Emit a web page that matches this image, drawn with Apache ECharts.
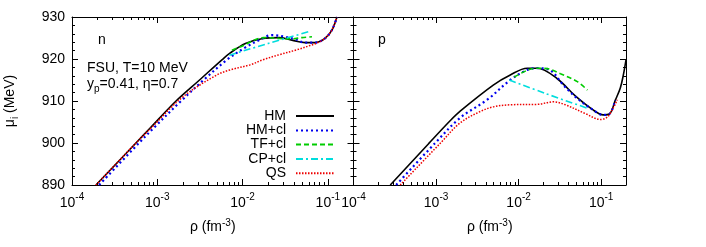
<!DOCTYPE html>
<html>
<head>
<meta charset="utf-8">
<script src="https://cdn.jsdelivr.net/npm/echarts@6/dist/echarts.min.js"></script>
<style>
html,body{margin:0;padding:0;background:#fff;}
#c{width:706px;height:247px;}
</style>
</head>
<body>
<div id="c"></div>
<script>
// ---------- data (rho in fm^-3, mu in MeV) ----------
const seriesNames = ['HM', 'HM+cl', 'TF+cl', 'CP+cl', 'QS'];
const xTickLabels = ['10^-4', '10^-3', '10^-2', '10^-1'];
const xDecades = [1e-4, 1e-3, 1e-2, 1e-1];
const yTicks = [890, 900, 910, 920, 930];

// neutron panel
const nHM_rho = [1.91e-4, 5.62e-4, 8.2e-4, 1.66e-3, 3.13e-3, 5.73e-3, 7.11e-3, 1.08e-2, 1.73e-2, 2.67e-2, 3.79e-2, 5.43e-2, 7.06e-2, 9.25e-2, 0.1117, 0.128];
const nHM_mu  = [890.0, 900.0, 903.5, 910.0, 915.0, 919.8, 921.4, 923.7, 924.9, 925.1, 924.5, 923.9, 923.9, 924.9, 926.9, 930.0];
const nHMcl_rho = [2.08e-4, 6.1e-4, 9.1e-4, 1.9e-3, 3.49e-3, 6.56e-3, 1.07e-2, 1.6e-2, 2.21e-2, 3.14e-2, 4.11e-2, 5.37e-2, 7.06e-2, 9.25e-2, 0.1117, 0.128];
const nHMcl_mu  = [890.0, 900.0, 903.6, 910.0, 915.0, 919.8, 922.7, 924.6, 925.7, 925.3, 924.7, 923.9, 923.9, 924.9, 926.9, 930.0];
const nTF_rho = [7.5e-3, 1.07e-2, 1.4e-2, 1.83e-2, 2.67e-2, 3.79e-2, 4.97e-2, 6.52e-2];
const nTF_mu  = [922.1, 923.4, 924.6, 925.1, 924.9, 924.8, 925.1, 925.3];
const nCP_rho = [7.0e-3, 2.0e-2, 5.96e-2];
const nCP_mu  = [920.9, 923.7, 926.5];
const nQS_rho = [1.91e-4, 5.62e-4, 8.67e-4, 2.0e-3, 5.01e-3, 7.11e-3, 1.22e-2, 1.73e-2, 2.67e-2, 4.35e-2, 6.17e-2, 7.45e-2, 9.25e-2, 0.1117, 0.128];
const nQS_mu  = [890.0, 900.0, 903.8, 911.0, 916.2, 917.4, 918.6, 919.8, 921.0, 922.2, 923.2, 923.8, 924.9, 926.9, 930.0];

// proton panel
const pHM_rho = [2.79e-4, 8.17e-4, 1.48e-3, 1.96e-3, 4.93e-3, 7.93e-3, 1.27e-2, 1.69e-2, 2.94e-2, 4.86e-2, 7.82e-2, 0.106, 0.1256, 0.1486, 0.1706, 0.1858, 0.2];
const pHM_mu  = [890.0, 899.9, 905.3, 907.6, 913.8, 916.2, 917.8, 917.8, 915.3, 911.2, 908.0, 906.7, 906.9, 910.2, 913.1, 916.2, 919.8];
const pHMcl_rho = [3.29e-4, 9.77e-4, 1.96e-3, 4.17e-3, 7.93e-3, 1.27e-2, 1.69e-2, 2.42e-2, 3.48e-2, 5.15e-2, 7.82e-2, 0.106, 0.1256, 0.1486];
const pHMcl_mu  = [890.0, 900.0, 906.0, 910.3, 915.0, 917.4, 917.8, 917.3, 913.8, 910.6, 908.0, 906.7, 906.9, 910.2];
const pTF_rho = [8.86e-3, 1.27e-2, 1.69e-2, 2.23e-2, 3.21e-2, 5.15e-2, 6.81e-2];
const pTF_mu  = [915.7, 917.3, 917.8, 917.7, 916.5, 914.6, 912.6];
const pCP_rho = [7.71e-3, 2.11e-2, 7.01e-2];
const pCP_mu  = [915.0, 911.8, 908.2];
const pQS_rho = [3.68e-4, 1.12e-3, 1.96e-3, 3.43e-3, 4.93e-3, 7.93e-3, 1.69e-2, 2.64e-2, 3.68e-2, 6.43e-2, 9.77e-2, 0.119, 0.1406, 0.157];
const pQS_mu  = [890.0, 899.9, 904.8, 907.5, 908.6, 909.1, 909.2, 909.8, 909.1, 907.0, 905.6, 906.2, 908.4, 910.3];

// ---------- chart ----------
const FONT = '"Liberation Sans", Arial, Helvetica, sans-serif';
const X_MIN = 1e-4, X_MAX = 0.2;
const minorX = [];
xDecades.forEach(d => { for (let k = 2; k <= 9; k++) { const v = k * d; if (v < X_MAX) minorX.push(v); } });

const zip = (a, b) => a.map((v, i) => [v, b[i]]);
const styles = [
  { color: '#000000', width: 1.6, type: 'solid' },
  { color: '#0000ee', width: 2.2, type: [2, 3] },
  { color: '#00cc00', width: 1.6, type: [5, 3] },
  { color: '#00dddd', width: 1.6, type: [7, 3, 2, 3] },
  { color: '#ee0000', width: 1.5, type: [1.5, 1.5] }
];

const grids = [
  { left: 72, top: 17, width: 281.5, height: 168 },
  { left: 353.5, top: 17, width: 272.5, height: 168 }
];

const axisLine = { show: true, onZero: false, lineStyle: { color: '#000', width: 1 } };
const tickLine = { color: '#000', width: 1 };
const xAxes = [];
const yAxes = [];
[0, 1].forEach(g => {
  xAxes.push({
    type: 'log', logBase: 10, gridIndex: g, min: X_MIN, max: X_MAX, position: 'bottom',
    axisLine: axisLine,
    axisTick: { inside: true, length: 6, customValues: xDecades, lineStyle: tickLine },
    axisLabel: {
      customValues: xDecades, margin: 7, color: '#000', fontFamily: FONT,
      formatter: v => { const e = Math.round(Math.log10(v)); return '{b|10}{s|' + e + '}'; },
      rich: { b: { fontSize: 14, fontFamily: FONT, color: '#000', verticalAlign: 'bottom', lineHeight: 18 },
              s: { fontSize: 10, fontFamily: FONT, color: '#000', verticalAlign: 'top', lineHeight: 18 } }
    },
    splitLine: { show: false },
    name: 'ρ (fm{s|-3})', nameLocation: 'middle', nameGap: 33,
    nameTextStyle: { fontSize: 14, fontFamily: FONT, color: '#000',
      rich: { s: { fontSize: 10, fontFamily: FONT, color: '#000', verticalAlign: 'top', lineHeight: 18 } } }
  });
  xAxes.push({
    type: 'log', logBase: 10, gridIndex: g, min: X_MIN, max: X_MAX, position: 'bottom',
    axisLine: { show: false },
    axisTick: { inside: true, length: 3, customValues: minorX, lineStyle: tickLine },
    axisLabel: { show: false }, splitLine: { show: false }
  });
  xAxes.push({
    type: 'log', logBase: 10, gridIndex: g, min: X_MIN, max: X_MAX, position: 'top',
    axisLine: axisLine,
    axisTick: { inside: true, length: 6, customValues: xDecades, lineStyle: tickLine },
    axisLabel: { show: false }, splitLine: { show: false }
  });
  xAxes.push({
    type: 'log', logBase: 10, gridIndex: g, min: X_MIN, max: X_MAX, position: 'top',
    axisLine: { show: false },
    axisTick: { inside: true, length: 3, customValues: minorX, lineStyle: tickLine },
    axisLabel: { show: false }, splitLine: { show: false }
  });
  yAxes.push({
    type: 'value', gridIndex: g, min: yTicks[0], max: yTicks[yTicks.length - 1], interval: 10, position: 'left',
    axisLine: axisLine,
    axisTick: { inside: true, length: 6, lineStyle: tickLine },
    minorTick: { show: true, splitNumber: 5, length: 3, lineStyle: tickLine },
    axisLabel: { show: g === 0, fontSize: 14, fontFamily: FONT, color: '#000', margin: 7 },
    splitLine: { show: false },
    name: g === 0 ? 'μ{sub|i} (MeV)' : '', nameLocation: 'middle', nameGap: 52, nameRotate: 90,
    nameTextStyle: { fontSize: 14, fontFamily: FONT, color: '#000',
      rich: { sub: { fontSize: 10, fontFamily: FONT, color: '#000', verticalAlign: 'bottom', lineHeight: 20 } } }
  });
  yAxes.push({
    type: 'value', gridIndex: g, min: yTicks[0], max: yTicks[yTicks.length - 1], interval: 10, position: 'right',
    axisLine: axisLine,
    axisTick: { inside: true, length: 6, lineStyle: tickLine },
    minorTick: { show: true, splitNumber: 5, length: 3, lineStyle: tickLine },
    axisLabel: { show: false }, splitLine: { show: false }
  });
});

const panels = [
  [[nHM_rho, nHM_mu], [nHMcl_rho, nHMcl_mu], [nTF_rho, nTF_mu], [nCP_rho, nCP_mu], [nQS_rho, nQS_mu]],
  [[pHM_rho, pHM_mu], [pHMcl_rho, pHMcl_mu], [pTF_rho, pTF_mu], [pCP_rho, pCP_mu], [pQS_rho, pQS_mu]]
];
const series = [];
panels.forEach((p, g) => {
  p.forEach((d, i) => {
    series.push({
      name: seriesNames[i], type: 'line', xAxisIndex: g * 4, yAxisIndex: g * 2,
      data: zip(d[0], d[1]), symbol: 'none', showSymbol: false, smooth: 0.35,
      lineStyle: { color: styles[i].color, width: styles[i].width, type: styles[i].type },
      itemStyle: { color: styles[i].color }, z: 2 + i, silent: true, animation: false, clip: true
    });
  });
});

const legendCenters = [116, 130.5, 144.5, 159, 173.3];
const legends = seriesNames.map((nm, i) => ({
  data: [nm], orient: 'vertical', right: 371, top: legendCenters[i] - 7, align: 'right',
  itemWidth: 38, itemHeight: 14, padding: 0, selectedMode: false,
  itemStyle: { opacity: 0, color: 'rgba(0,0,0,0)', borderWidth: 0 },
  textStyle: { fontSize: 14, fontFamily: FONT, color: '#000', padding: [0, 5, 0, 0] }
}));

const txt = (x, y, text) => ({
  type: 'text', left: x, top: y,
  style: { text: text, fontSize: 14, fontFamily: FONT, fill: '#000' }
});

const option = {
  animation: false,
  backgroundColor: '#fff',
  grid: grids,
  xAxis: xAxes,
  yAxis: yAxes,
  legend: legends,
  series: series,
  graphic: [
    txt(98, 33, 'n'),
    txt(378, 33, 'p'),
    txt(87, 61, 'FSU, T=10 MeV'),
    { type: 'text', left: 87, top: 77,
      style: { text: 'y{sub|p}=0.41, η=0.7', fontSize: 14, fontFamily: FONT, fill: '#000',
        rich: { sub: { fontSize: 10, fontFamily: FONT, fill: '#000', verticalAlign: 'bottom', lineHeight: 20 } } } }
  ]
};

const chart = echarts.init(document.getElementById('c'), null, { renderer: 'canvas' });
chart.setOption(option);
</script>
</body>
</html>
